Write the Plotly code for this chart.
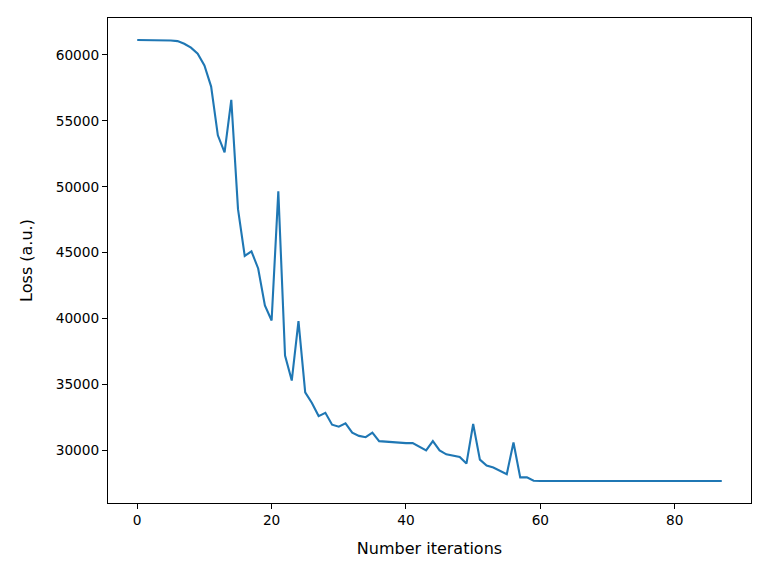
import plotly.graph_objects as go

iterations = list(range(88))
loss = [61130, 61130, 61130, 61130, 61120, 61100, 61050, 60850, 60550, 60100,
        59200, 57600, 53900, 52600, 56600, 48300, 44750, 45100, 43800, 41000,
        39850, 49650, 37200, 35300, 39800, 34400, 33600, 32600, 32850, 31950,
        31800, 32050, 31350, 31100, 31000, 31350, 30700, 30650, 30650, 30600,
        30550, 30550, 30300, 30000, 30700, 30000, 29700, 29600, 29500, 29000,
        32000, 29300, 28850, 28700, 28450, 28200, 30600, 27950, 27950, 27700] + [27680] * 28

x_ticks = [0, 20, 40, 60, 80]
y_ticks = [30000, 35000, 40000, 45000, 50000, 55000, 60000]

fig = go.Figure(go.Scatter(x=iterations, y=loss, mode="lines",
                           line=dict(color="#1f77b4", width=2.1)))

span_x = max(iterations) - min(iterations)
span_y = max(loss) - min(loss)
axis_common = dict(showgrid=False, zeroline=False, showline=True, linecolor="black",
                   linewidth=1, mirror=True, ticks="outside", ticklen=5,
                   tickcolor="black", tickwidth=1,
                   tickfont=dict(family="DejaVu Sans", size=13.7, color="black"))
fig.update_layout(
    width=768, height=576,
    margin=dict(l=108, r=17, t=18, b=73),
    paper_bgcolor="white", plot_bgcolor="white",
    showlegend=False,
    font=dict(family="DejaVu Sans", size=13.7, color="black"),
    xaxis=dict(range=[min(iterations) - 0.05 * span_x, max(iterations) + 0.05 * span_x],
               tickvals=x_ticks, ticktext=[str(v) for v in x_ticks],
               title=dict(text="Number iterations", standoff=15), **axis_common),
    yaxis=dict(range=[min(loss) - 0.05 * span_y, max(loss) + 0.05 * span_y],
               tickvals=y_ticks, ticktext=[str(v) for v in y_ticks],
               title=dict(text="Loss (a.u.)", standoff=19), **axis_common),
)
fig.write_html("out.html")
